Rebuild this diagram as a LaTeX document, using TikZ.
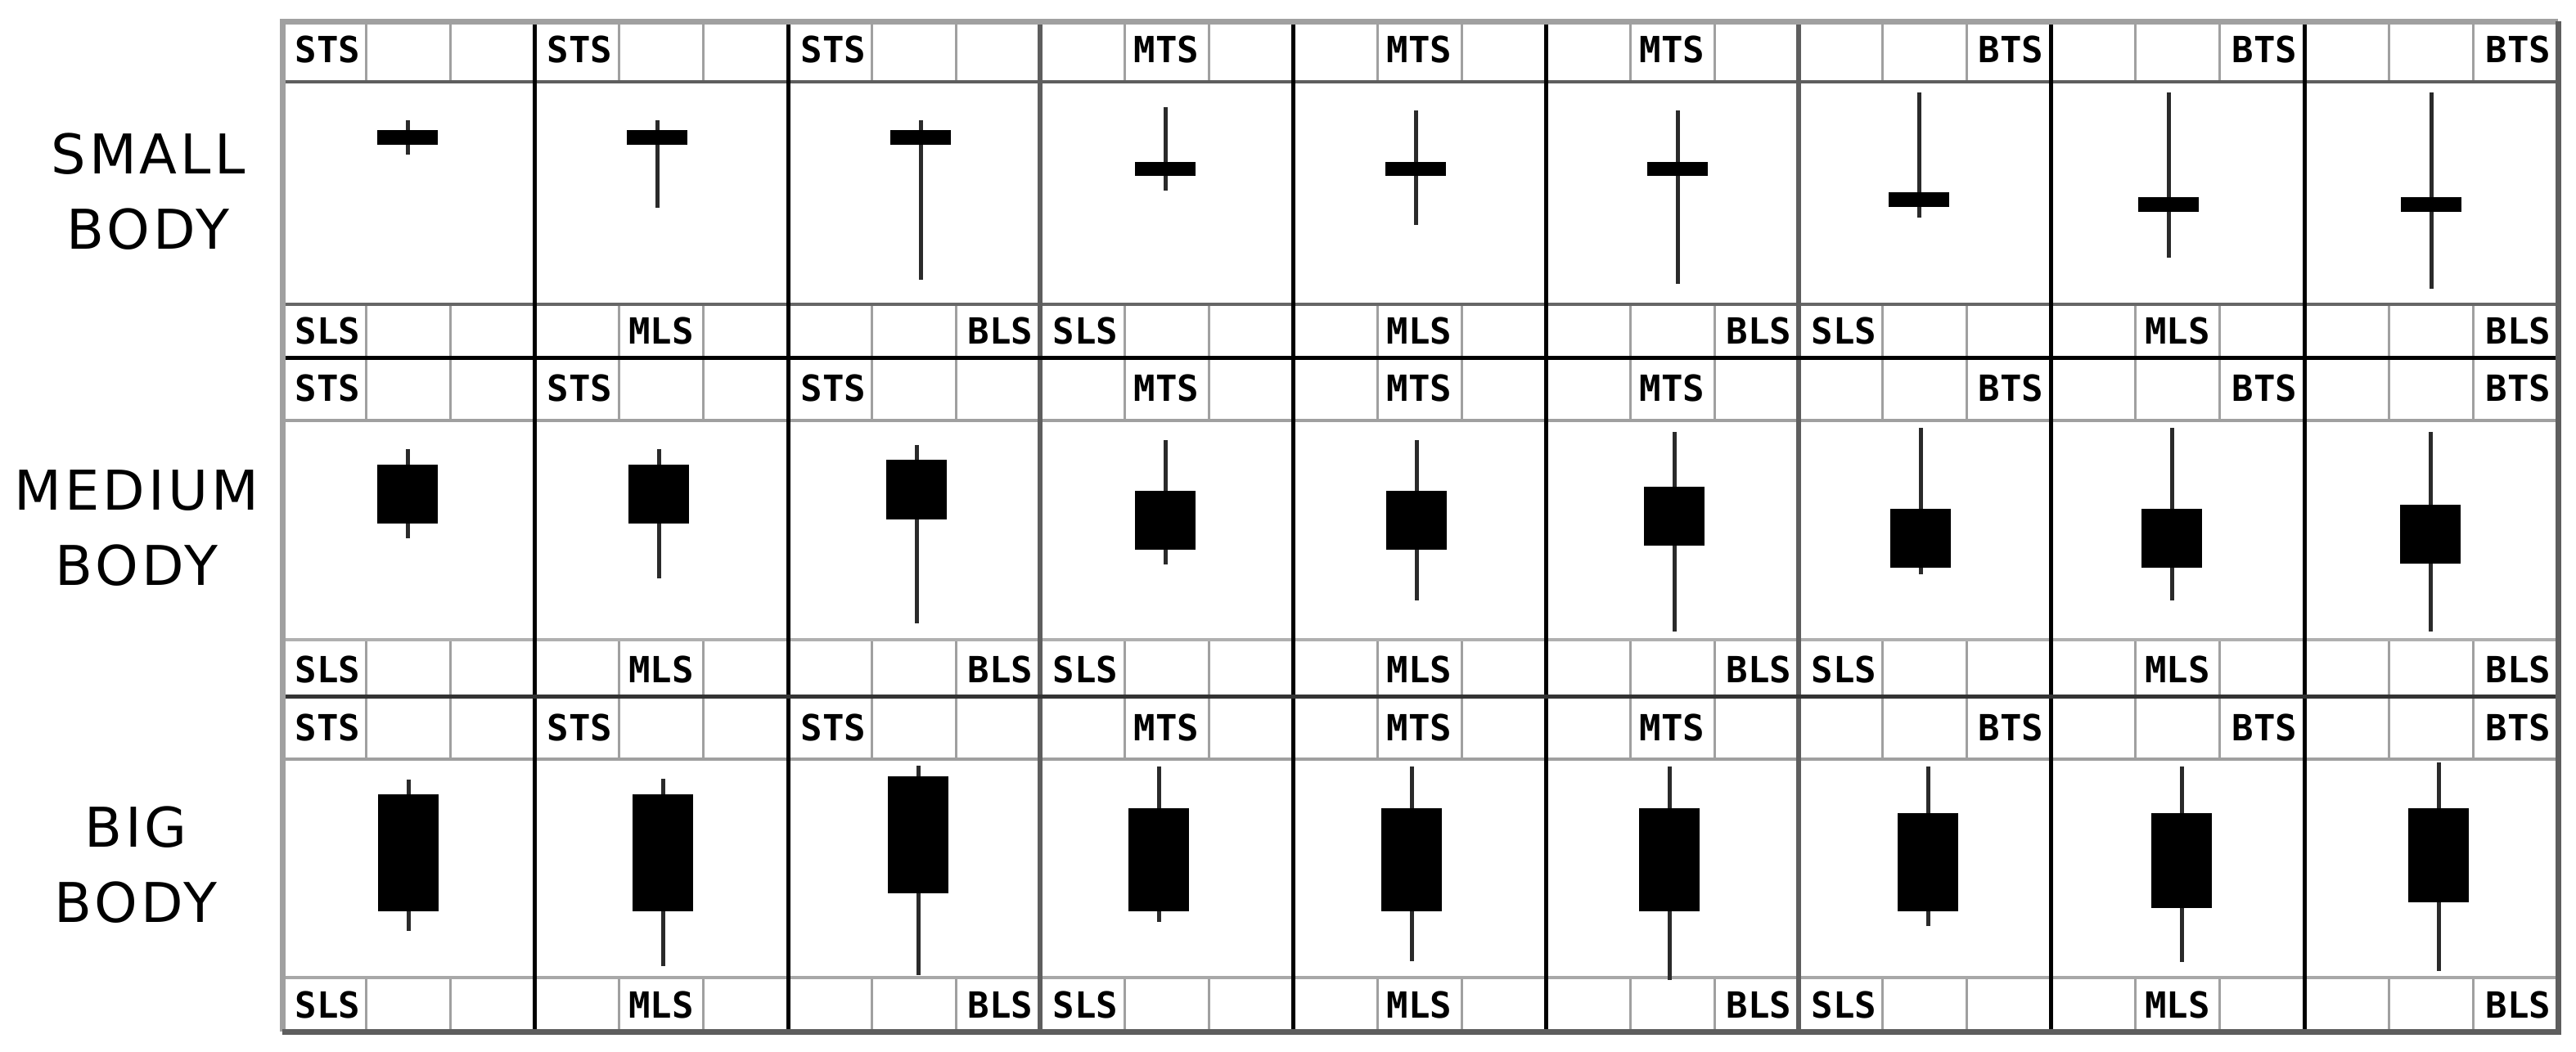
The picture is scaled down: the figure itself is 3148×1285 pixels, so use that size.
\documentclass[tikz,border=0pt]{standalone}
\usepackage{fontspec}
\setmainfont{DejaVu Sans}
\newfontfamily\lblfont{DejaVu Sans Mono}
\newfontfamily\rowfont[LetterSpace=6]{DejaVu Sans}
\definecolor{bordergray}{HTML}{A0A0A0}
\definecolor{darkgray}{HTML}{5E5E5E}
\definecolor{wickcol}{HTML}{2A2A2A}
\newcommand\placelabel[6]{%
  \ifcase#4\or
    \node[lbl,anchor=west] (#1) at (#2+15,#5) {#6};%
  \or
    \node[lbl,anchor=center] (#1) at ({(#2+#3)/2},#5) {#6};%
  \or
    \node[lbl,anchor=east] (#1) at (#3-8,#5) {#6};%
  \fi}
\begin{document}
\begin{tikzpicture}[x=0.25pt,y=-0.25pt,
  lbl/.style={inner sep=0pt,font=\lblfont\bfseries\fontsize{11pt}{13pt}\selectfont},
  rowlbl/.style={inner sep=0pt,align=center,font=\rowfont\fontsize{16.75pt}{23pt}\selectfont},
  subline/.style={draw=bordergray,line width=0.75pt},
  colline/.style={draw=black,line width=1.25pt},
  grpline/.style={draw=darkgray,line width=1.5pt},
  rowline/.style={draw=black,line width=1.25pt},
  wick/.style={draw=wickcol,line width=1.25pt},
  body/.style={fill=black}]
\useasboundingbox (0,0) rectangle (3148,1285);
\fill[white] (0,0) rectangle (3148,1285);
% sub-cell separators in header and footer strips
\foreach \t/\h/\f/\b in {26/100/372/437,437/514/782/851,851/928/1195/1261}{
  \foreach \xl/\xr in {345/653,653/963,963/1271,1271/1580,1580/1889,1889/2198,2198/2506,2506/2816,2816/3126}{
    \pgfmathsetmacro\sa{\xl+(\xr-\xl)/3}
    \pgfmathsetmacro\sb{\xl+2*(\xr-\xl)/3}
    \draw[subline] (\sa,\t) -- (\sa,\h);
    \draw[subline] (\sb,\t) -- (\sb,\h);
    \draw[subline] (\sa,\f) -- (\sa,\b);
    \draw[subline] (\sb,\f) -- (\sb,\b);
  }
}
% header and footer lines
\foreach \h/\hc/\f/\fc in {100/5E5E5E/372/666666,514/A0A0A0/782/B0B0B0,928/A0A0A0/1195/A8A8A8}{
  \definecolor{hcol}{HTML}{\hc}
  \definecolor{fcol}{HTML}{\fc}
  \draw[draw=hcol,line width=1pt] (345,\h) -- (3126,\h);
  \draw[draw=fcol,line width=1pt] (345,\f) -- (3126,\f);
}
% column lines
\foreach \x in {653,963,1580,1889,2506,2816}{
  \draw[colline] (\x,26) -- (\x,1261);
}
\foreach \x in {1271,2198}{
  \draw[grpline] (\x,26) -- (\x,1261);
}
% row separators
\draw[rowline] (345,437) -- (3126,437);
\draw[rowline,draw=black!80] (345,851) -- (3126,851);
% outer border
\draw[draw=bordergray,line width=1.75pt] (345,1261) -- (345,26) -- (3126,26);
\draw[draw=darkgray,line width=1.75pt] (3126,26) -- (3126,1261) -- (345,1261);
% labels in header and footer strips
\foreach \r/\hy/\fy in {1/60/404,2/474/818,3/889/1228}{
  \foreach \c/\xl/\xr/\tl/\tp/\bl/\bp in {1/345/653/STS/1/SLS/1,2/653/963/STS/1/MLS/2,3/963/1271/STS/1/BLS/3,4/1271/1580/MTS/2/SLS/1,5/1580/1889/MTS/2/MLS/2,6/1889/2198/MTS/2/BLS/3,7/2198/2506/BTS/3/SLS/1,8/2506/2816/BTS/3/MLS/2,9/2816/3126/BTS/3/BLS/3}{
    \placelabel{hdr-\r-\c}{\xl}{\xr}{\tp}{\hy}{\tl}
    \placelabel{ftr-\r-\c}{\xl}{\xr}{\bp}{\fy}{\bl}
  }
}
% row labels
\node[rowlbl] (small) at (181,234) {SMALL\\BODY};
\node[rowlbl] (medium) at (167,646) {MEDIUM\\BODY};
\node[rowlbl] (big) at (166,1057) {BIG\\BODY};
% candles: centre x / body top / body bottom / wick top / wick bottom
\foreach \cx/\bt/\bb/\wt/\wb in {
  498/159/177/147/189, 803/159/177/147/254, 1125/159/177/147/342,
  1424/198/215/131/233, 1730/198/215/135/275, 2050/198/215/135/347,
  2345/235/253/113/266, 2650/241/259/113/315, 2971/241/259/113/353,
  498/568/640/549/658, 805/568/640/549/707, 1120/562/635/544/762,
  1424/600/672/538/690, 1731/600/672/538/734, 2046/595/667/528/772,
  2347/622/694/523/702, 2654/622/694/523/734, 2970/617/689/528/772,
  499/971/1114/953/1138, 810/971/1114/952/1181, 1122/949/1092/936/1192,
  1416/988/1114/937/1127, 1725/988/1114/937/1175, 2040/988/1114/937/1198,
  2356/994/1114/937/1132, 2666/994/1110/937/1176, 2980/988/1103/932/1187}{
  \draw[wick] (\cx,\wt) -- (\cx,\wb);
  \fill[body] (\cx-37,\bt) rectangle (\cx+37,\bb);
}
\end{tikzpicture}
\end{document}
